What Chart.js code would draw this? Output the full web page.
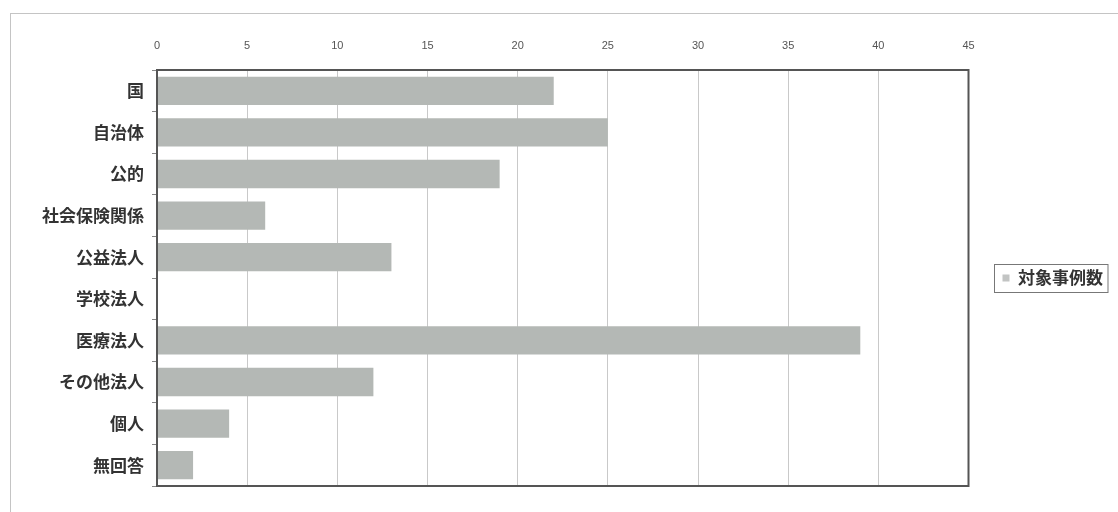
<!DOCTYPE html>
<html lang="ja">
<head>
<meta charset="utf-8">
<script src="https://cdn.jsdelivr.net/npm/chart.js@4.4.1/dist/chart.umd.min.js"></script>
<style>
  html, body { margin: 0; padding: 0; background: #fff; }
  #wrap { position: relative; width: 1118px; height: 512px; overflow: hidden; }
  #frame { position: absolute; left: 10px; top: 13px; width: 1120px; height: 520px; border: 1px solid #c4c4c4; box-sizing: border-box; }
  #box { position: absolute; left: 0; top: 0; width: 1118px; height: 512px; }
</style>
</head>
<body>
<div id="wrap">
  <div id="frame"></div>
  <div id="box"><canvas id="chart"></canvas></div>
</div>
<script>
// データ
const categories = ['国', '自治体', '公的', '社会保険関係', '公益法人', '学校法人', '医療法人', 'その他法人', '個人', '無回答'];
const caseCounts = [22, 25, 19, 6, 13, 0, 39, 12, 4, 2];
const seriesName = '対象事例数';
const xTicks = [0, 5, 10, 15, 20, 25, 30, 35, 40, 45];

const labelFont = "'Noto Sans CJK JP', 'Noto Sans', sans-serif";

// プロット枠と凡例枠を描く
const framePlugin = {
    id: 'frames',
    afterDraw(chart) {
        const ctx = chart.ctx;
        const a = chart.chartArea;
        ctx.save();
        ctx.strokeStyle = '#555';
        ctx.lineWidth = 2;
        ctx.strokeRect(a.left, a.top, a.right - a.left, a.bottom - a.top);
        const hb = chart.legend && chart.legend.legendHitBoxes && chart.legend.legendHitBoxes[0];
        if (hb) {
            ctx.strokeStyle = '#777';
            ctx.lineWidth = 1;
            ctx.strokeRect(Math.round(hb.left) - 8.5, Math.round(hb.top) - 5.5, hb.width + 13, hb.height + 11);
        }
        ctx.restore();
    }
};

new Chart(document.getElementById('chart').getContext('2d'), {
    type: 'bar',
    data: {
        labels: categories,
        datasets: [{
            label: seriesName,
            data: caseCounts,
            backgroundColor: '#b4b8b5',
            borderWidth: 0,
            barPercentage: 0.68,
            categoryPercentage: 1.0
        }]
    },
    options: {
        indexAxis: 'y',
        responsive: true,
        maintainAspectRatio: false,
        animation: false,
        layout: { padding: { top: 30, bottom: 26, left: 0, right: 5 } },
        scales: {
            x: {
                position: 'top',
                min: 0,
                max: 45,
                afterBuildTicks(scale) {
                    scale.ticks = xTicks.map(v => ({ value: v }));
                },
                afterFit(scale) { scale.height = 40; },
                grid: { color: '#c9c9c9', lineWidth: 1, drawTicks: false },
                border: { display: false },
                ticks: {
                    padding: 17,
                    color: '#555',
                    font: { family: "'Liberation Sans', Arial, sans-serif", size: 11 }
                }
            },
            y: {
                afterFit(scale) { scale.width = 157; },
                grid: { drawOnChartArea: false, drawTicks: true, tickLength: 5, color: '#888' },
                border: { display: false },
                ticks: {
                    padding: 8,
                    color: '#333',
                    font: { family: labelFont, size: 17, weight: 'bold' }
                }
            }
        },
        plugins: {
            legend: {
                position: 'right',
                fullSize: false,
                labels: {
                    boxWidth: 7,
                    boxHeight: 7,
                    padding: 34,
                    color: '#333',
                    font: { family: labelFont, size: 17, weight: 'bold' },
                    generateLabels(chart) {
                        const ds = chart.data.datasets[0];
                        return [{
                            text: ds.label,
                            fillStyle: '#c2c4c3',
                            strokeStyle: '#c2c4c3',
                            lineWidth: 0,
                            fontColor: '#333',
                            datasetIndex: 0
                        }];
                    }
                }
            },
            tooltip: { enabled: false }
        }
    },
    plugins: [framePlugin]
});
</script>
</body>
</html>
